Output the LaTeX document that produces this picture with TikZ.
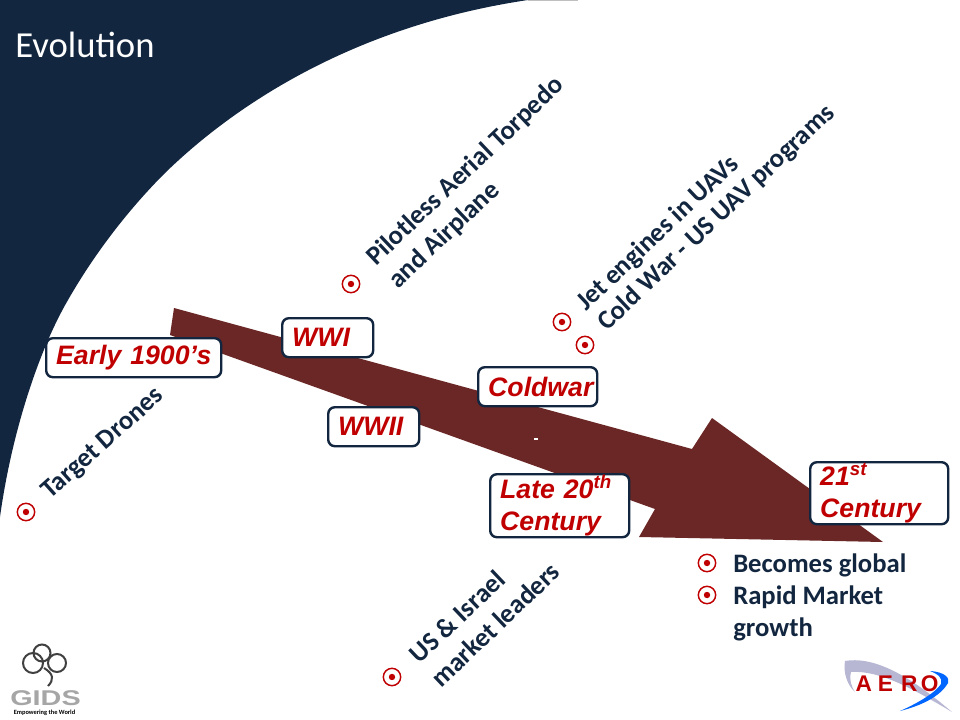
\documentclass[tikz,border=0pt]{standalone}
\usepackage{fontspec}
\setmainfont{Carlito}
\newfontfamily\arialfont{Liberation Sans}
\definecolor{navy}{HTML}{12263F}
\definecolor{darkred}{HTML}{C00000}
\definecolor{arrowred}{HTML}{6B2725}
\begin{document}
\begin{tikzpicture}[
    x=0.75pt,y=-0.75pt,
    era/.style={draw=navy,line width=1.8pt,fill=white,rounded corners=5pt,
        inner xsep=7.5pt,inner ysep=0pt,anchor=north west,align=left,
        text=darkred,font={\arialfont\bfseries\itshape\fontsize{20}{24}\selectfont}},
    note/.style={text=navy,inner sep=0pt,align=left,
        font={\bfseries\fontsize{20}{24}\selectfont}},
    slanted/.style={note,anchor=west,rotate=43.5},
    bullet/.style={circle,draw=darkred,line width=1.1pt,fill=white,
        minimum size=13pt,inner sep=0pt,
        path picture={\fill[darkred] (path picture bounding box.center) circle (2.4pt);}},
    ]
    \useasboundingbox (0,0) rectangle (960,720);
    \fill[white] (0,0) rectangle (960,720);

    % Dark corner
    \fill[navy] (0,0)--(528,0) .. controls (360,25) and (240,100) .. (165,173)
        .. controls (125,213) and (92,258) .. (68,300)
        .. controls (40,348) and (12,430) .. (0,517)--cycle;
    \draw[gray!50,line width=.8pt] (528,0.5)--(578,0.5);
    \node[inner sep=0pt,anchor=west,text=white,font={\fontsize{27.5}{32}\selectfont}]
        (title) at (15,45) {Evolution};

    % Big arrow
    \fill[arrowred] (174,308)--(692,449)--(712,418)--(883,542)--(639,537)
        --(655,509)--(170,335)--cycle;
    \draw[white,line width=.8pt] (534,439)--(538,439);

    % Eras
    \node[era,minimum width=131.25pt,minimum height=29.25pt,text width=116.25pt]
        (early) at (45,337) {\mbox{Early 1900’s}};
    \node[era,minimum width=68.25pt,minimum height=29.25pt,text width=53.25pt]
        (wwi) at (281,317) {WWI};
    \node[era,minimum width=68.25pt,minimum height=29.25pt,text width=53.25pt]
        (wwii) at (327,406) {WWII};
    \node[era,minimum width=89.25pt,minimum height=29.25pt,text width=74.25pt]
        (coldwar) at (477,366) {Coldwar};
    \node[era,minimum width=104.25pt,minimum height=47.25pt,text width=89.25pt]
        (late) at (489,473) {Late 20\textsuperscript{th}\\Century};
    \node[era,minimum width=103.5pt,minimum height=46.5pt,text width=88.5pt]
        (century) at (809,461) {21\textsuperscript{st}\\Century};

    % Slanted notes
    \node[bullet] (b1) at (26,512) {};
    \node[slanted,rotate=-1.8] (target) at (46,495) {Target Drones};
    \node[bullet] (b2) at (351,284) {};
    \node[slanted] (pilotless) at (382,273) {Pilotless Aerial Torpedo\\and Airplane};
    \node[bullet] (b3) at (562,322) {};
    \node[slanted] (jet) at (581,307) {Jet engines in UAVs};
    \node[bullet] (b4) at (585,345) {};
    \node[slanted] (cold) at (602,327) {Cold War - US UAV programs};
    \node[bullet] (b5) at (392,677) {};
    \node[slanted] (israel) at (424,670) {US \& Israel\\market leaders};

    % Flat notes
    \node[bullet] (b6) at (707,563) {};
    \node[note,anchor=north west] (global) at (733,554) {Becomes global};
    \node[bullet] (b7) at (707,595) {};
    \node[note,anchor=north west] (rapid) at (733,586) {Rapid Market\\growth};

    % GIDS logo
    \draw[gray!50!black,line width=1.5pt] (42,653) circle (8.5) (33,663) circle (10)
        (57,663) circle (9);
    \draw[gray!50!black,line width=1.5pt] (44,668) .. controls (54,674) and (54,680) .. (48,686);
    \node[inner sep=0pt,text=gray!70,font={\arialfont\bfseries\fontsize{16}{16}\selectfont},
        xscale=1.35] (gids) at (45.5,698) {GIDS};
    \node[inner sep=0pt,text=black,font={\bfseries\fontsize{4.8}{5}\selectfont}]
        (gidstag) at (44.5,713) {Empowering the World};

    % AERO logo
    \fill[blue!25!gray!45] (845,661) .. controls (880,655) and (920,685) .. (952,712)
        .. controls (915,690) and (880,670) .. (851,672) .. controls (849,680) and (852,688) .. (855,692)
        .. controls (847,685) and (843,672) .. (845,661)--cycle;
    \fill[blue!60!cyan] (930,671) .. controls (945,672) and (950,678) .. (948,683)
        .. controls (940,697) and (920,706) .. (900,711) .. controls (918,703) and (935,693) .. (941,684)
        .. controls (943,678) and (938,674) .. (930,671)--cycle;
    \node[inner sep=0pt,text=red!75!black,font={\arialfont\bfseries\fontsize{17}{17}\selectfont}]
        (aero) at (897,684) {A\hspace{4.5pt}E\hspace{6pt}R\hspace{2.5pt}O};
\end{tikzpicture}
\end{document}
